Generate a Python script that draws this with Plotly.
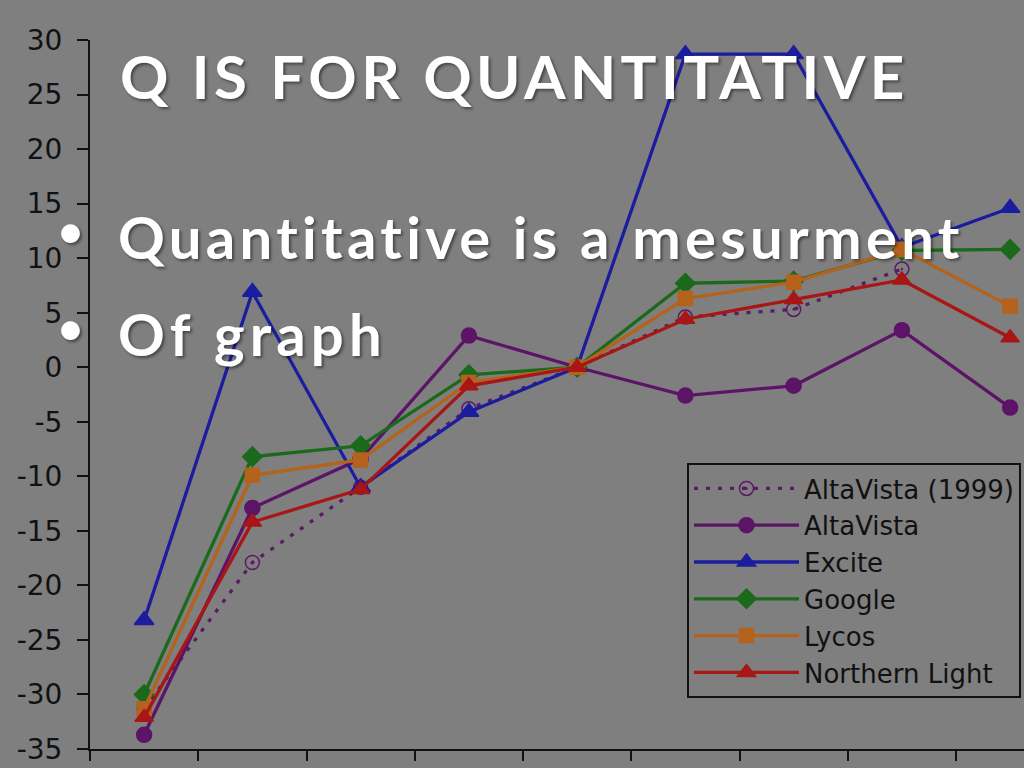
import plotly.graph_objects as go

# ---- data ----
periods = ["1", "2", "3", "4", "5", "6", "7", "8", "9"]
altavista_1999 = [-31.3, -17.9, -11.0, -3.8, 0.0, 4.6, 5.3, 9.0, None]
altavista = [-33.7, -12.9, -8.4, 2.9, 0.0, -2.6, -1.7, 3.4, -3.7]
excite = [-23.2, 6.9, -11.0, -4.1, 0.0, 28.7, 28.7, 11.0, 14.6]
google = [-30.0, -8.2, -7.2, -0.7, 0.0, 7.7, 7.9, 10.7, 10.8]
lycos = [-31.3, -9.9, -8.5, -1.4, 0.0, 6.3, 7.8, 10.8, 5.6]
northern_light = [-32.1, -14.2, -11.2, -1.7, 0.0, 4.4, 6.2, 8.0, 2.7]

series_names = ["AltaVista (1999)", "AltaVista", "Excite", "Google", "Lycos", "Northern Light"]

title_text = "Q IS FOR QUANTITATIVE"
bullet_lines = ["Quantitative is a mesurment", "Of graph"]

y_ticks = list(range(-35, 31, 5))
y_tick_labels = [str(v) for v in y_ticks]

# ---- styling ----
BG = "#7f7f7f"
INK = "#111111"
W, H = 1024, 768
L, R, T, B = 90, 0, 40, 19
PW, PH = W - L - R, H - T - B
AX_FONT = "DejaVu Sans, Verdana, sans-serif"


def px_x(px):
    return (px - L) / PW


def px_y(py):
    return (H - B - py) / PH


fig = go.Figure()

styles = [
    dict(color="#5c1a66", symbol="circle-open-dot", size=14, dash="4px,8px"),
    dict(color="#5c1466", symbol="circle", size=15, dash="solid"),
    dict(color="#1c1c9e", symbol="triangle-up", size=17, dash="solid"),
    dict(color="#1b6a1b", symbol="diamond", size=15, dash="solid"),
    dict(color="#b4621c", symbol="square", size=14, dash="solid"),
    dict(color="#a81616", symbol="triangle-up", size=16, dash="solid"),
]
all_series = [altavista_1999, altavista, excite, google, lycos, northern_light]

for name, vals, st in zip(series_names, all_series, styles):
    fig.add_trace(go.Scatter(
        x=periods, y=vals, name=name, mode="lines+markers",
        line=dict(color=st["color"], width=3.3, dash=st["dash"]),
        marker=dict(symbol=st["symbol"], size=st["size"], color=st["color"],
                    line=dict(color=st["color"], width=1.5)),
        cliponaxis=False,
    ))

fig.update_xaxes(
    type="category", range=[-0.5, (W - L) / 108.25 - 0.5],
    tickson="boundaries", ticks="outside", ticklen=10, tickwidth=2, tickcolor=INK,
    showticklabels=False, showline=True, linecolor=INK, linewidth=2,
    showgrid=False, zeroline=False,
)
fig.update_yaxes(
    range=[-35, 30], tickvals=y_ticks, ticktext=y_tick_labels, ticks="outside",
    ticklen=11, tickwidth=2, tickcolor=INK, showline=True, linecolor=INK, linewidth=2,
    showgrid=False, zeroline=False,
    tickfont=dict(family=AX_FONT, size=28, color=INK),
    ticklabelstandoff=9,
)

TXT_FONT = "Lato, Open Sans, sans-serif"
shadow = "2px 2px 3px rgba(0,0,0,0.45)"

fig.add_annotation(
    xref="paper", yref="paper", x=px_x(118), y=px_y(76), xanchor="left", yanchor="middle",
    text=f'<span style="letter-spacing:4.4px">{title_text}</span>', showarrow=False,
    font=dict(family=TXT_FONT, size=60, color="white", weight="bold", shadow=shadow),
)
for i, (line, cy, sp) in enumerate(zip(bullet_lines, [236, 333], [4.3, 5.2])):
    fig.add_annotation(
        xref="paper", yref="paper", x=px_x(116), y=px_y(cy), xanchor="left", yanchor="middle",
        text=f'<span style="letter-spacing:{sp}px">{line}</span>', showarrow=False,
        font=dict(family=TXT_FONT, size=58, color="white", weight="bold", shadow=shadow),
    )
    fig.add_annotation(
        xref="paper", yref="paper", x=px_x(70), y=px_y(cy - 6), xanchor="center", yanchor="middle",
        text="•", showarrow=False,
        font=dict(family=TXT_FONT, size=50, color="white", shadow=shadow),
    )

fig.update_layout(
    width=W, height=H,
    margin=dict(l=L, r=R, t=T, b=B, autoexpand=False),
    paper_bgcolor=BG, plot_bgcolor=BG,
    showlegend=True,
    legend=dict(
        x=px_x(687), y=px_y(463), xanchor="left", yanchor="top",
        bgcolor="rgba(0,0,0,0)", bordercolor=INK, borderwidth=2,
        font=dict(family=AX_FONT, size=26, color=INK),
        itemwidth=105, tracegroupgap=0,
    ),
)

fig.write_html(
    "out.html",
    config={"displayModeBar": False},
    post_script="document.body.style.margin='0';document.body.style.background='#7f7f7f';",
)
